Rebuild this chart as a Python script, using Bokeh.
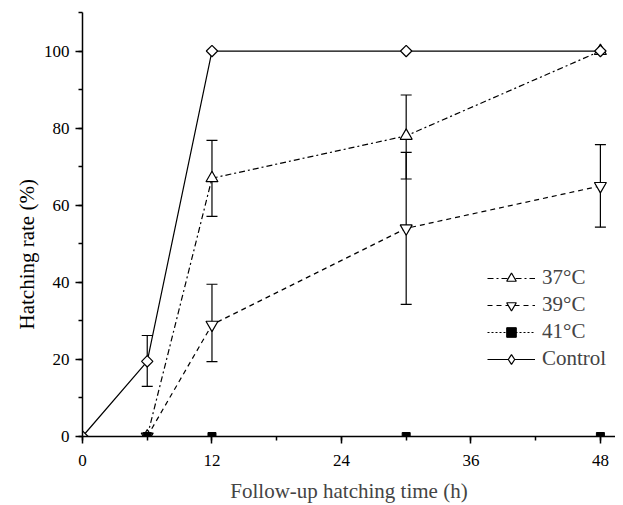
import math
from bokeh.plotting import figure
from bokeh.models import (ColumnDataSource, Whisker, TeeHead, SingleIntervalTicker,
                          Range1d, Legend, LegendItem, Title)
from bokeh.embed import file_html
from bokeh.resources import INLINE

# ---- data ----
control_x = [0, 6, 12, 30, 48]
control_y = [0, 19.5, 100, 100, 100]
control_err_x = [6]
control_err_lo = [13.0]
control_err_hi = [26.2]

t37_x = [6, 12, 30, 48]
t37_y = [0, 67, 78, 100]
t37_err_x = [12, 30]
t37_err_lo = [57.1, 66.8]
t37_err_hi = [76.8, 88.6]

t39_x = [6, 12, 30, 48]
t39_y = [0, 29, 54, 65]
t39_err_x = [12, 30, 48]
t39_err_lo = [19.4, 34.3, 54.3]
t39_err_hi = [39.5, 73.7, 75.7]

t41_x = [6, 12, 30, 48]
t41_y = [0, 0, 0, 0]

x_label = "Follow-up hatching time (h)"
y_label = "Hatching rate (%)"

FONT = "Liberation Serif"

p = figure(width=615, height=505, output_backend="svg", toolbar_location=None,
           x_range=Range1d(0, 49.4), y_range=Range1d(0, 110),
           min_border_left=82, min_border_right=0, min_border_top=12, min_border_bottom=60)
p.outline_line_color = None
p.xgrid.visible = False
p.ygrid.visible = False
p.background_fill_color = "white"

for ax in (p.xaxis[0], p.yaxis[0]):
    ax.axis_line_width = 1.5
    ax.axis_line_color = "black"
    ax.major_tick_line_width = 1.5
    ax.minor_tick_line_width = 1.5
    ax.major_tick_in = 0
    ax.major_tick_out = 7
    ax.minor_tick_in = 0
    ax.minor_tick_out = 4
    ax.major_label_text_font = FONT
    ax.major_label_text_font_size = "17px"
    ax.major_label_text_font_style = "normal"
    ax.major_label_text_color = "black"
    ax.axis_label_text_font = FONT
    ax.axis_label_text_font_size = "21px"
    ax.axis_label_text_font_style = "normal"

p.xaxis.ticker = SingleIntervalTicker(interval=12, num_minor_ticks=2)
p.yaxis.ticker = SingleIntervalTicker(interval=20, num_minor_ticks=2)
p.xaxis.major_label_standoff = 11
p.yaxis.major_label_standoff = 6
p.xaxis.axis_label = x_label
p.xaxis.axis_label_standoff = 10

ytitle = Title(text=y_label, align="left", offset=107, standoff=4,
               text_font=FONT, text_font_size="21px", text_font_style="normal",
               text_color="black")
p.add_layout(ytitle, "left")

# error bars
def add_err(xs, lo, hi):
    src = ColumnDataSource(dict(x=xs, lo=lo, hi=hi))
    w = Whisker(source=src, base="x", lower="lo", upper="hi", dimension="height",
                line_color="black", line_width=1.2,
                upper_head=TeeHead(size=11, line_color="black", line_width=1.2),
                lower_head=TeeHead(size=11, line_color="black", line_width=1.2))
    p.add_layout(w)

add_err(control_err_x, control_err_lo, control_err_hi)
add_err(t37_err_x, t37_err_lo, t37_err_hi)
add_err(t39_err_x, t39_err_lo, t39_err_hi)

# 37
l37 = p.line(t37_x, t37_y, line_color="black", line_width=1.2, line_dash="6 3 2 3")
m37 = p.scatter(t37_x, t37_y, marker="triangle", size=12, fill_color="white",
                line_color="black", line_width=1.2)
# 39
l39 = p.line(t39_x, t39_y, line_color="black", line_width=1.2, line_dash="5 4")
m39 = p.scatter(t39_x, t39_y, marker="inverted_triangle", size=12, fill_color="white",
                line_color="black", line_width=1.2)
# control
lc = p.line(control_x, control_y, line_color="black", line_width=1.2)
mc = p.scatter(control_x, control_y, marker="square", angle=math.pi / 4, size=8,
               fill_color="white", line_color="black", line_width=1.2)
# legend-only diamond (no visible data point)
mc_leg = p.scatter([float("nan")], [float("nan")], marker="diamond", size=13,
                   fill_color="white", line_color="black", line_width=1.2)
# 41
l41 = p.line(t41_x, t41_y, line_color="black", line_width=1.2, line_dash="2 2")
m41 = p.scatter(t41_x, t41_y, marker="square", size=8, fill_color="black",
                line_color="black")

legend = Legend(items=[
    LegendItem(label="37°C", renderers=[l37, m37]),
    LegendItem(label="39°C", renderers=[l39, m39]),
    LegendItem(label="41°C", renderers=[l41, m41]),
    LegendItem(label="Control", renderers=[lc, mc_leg]),
], location=(405, 65))
legend.border_line_color = None
legend.background_fill_alpha = 0
legend.label_text_font = FONT
legend.label_text_font_style = "normal"
legend.label_text_font_size = "21px"
legend.glyph_width = 48
legend.glyph_height = 24
legend.label_standoff = 7
legend.spacing = 2
legend.padding = 0
legend.margin = 0
p.add_layout(legend)

open("out.html", "w").write(file_html(p, INLINE))
